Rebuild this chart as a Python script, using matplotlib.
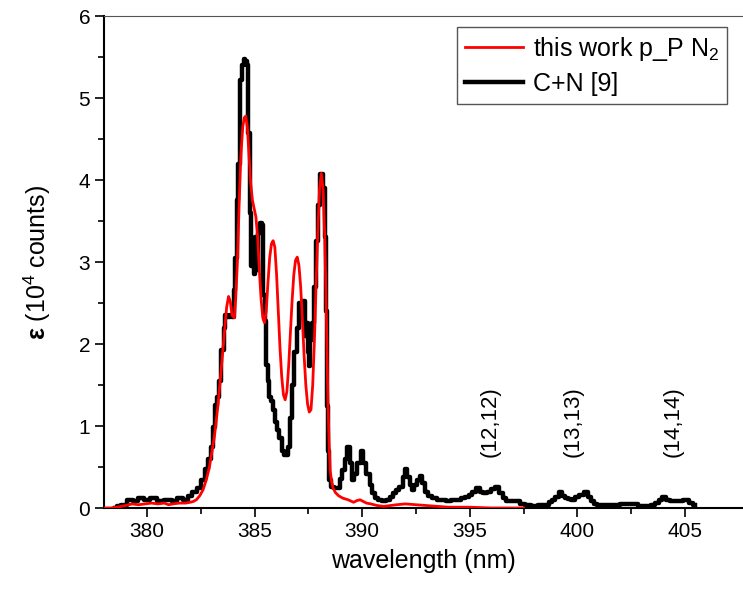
import numpy as np
import matplotlib.pyplot as plt

plt.rcParams['font.family'] = ['Liberation Sans', 'DejaVu Sans']
plt.rcParams['mathtext.fontset'] = 'custom'
plt.rcParams['mathtext.rm'] = 'Liberation Sans'
plt.rcParams['mathtext.bf'] = 'Liberation Sans:bold'

# C+N [9] (black, stepped)
wl_cn = [378.5, 378.7, 378.9, 379.2, 379.5, 379.7, 380.0, 380.3, 380.6, 381.0,
         381.3, 381.5, 381.8, 382.0, 382.2, 382.4, 382.6, 382.75, 382.9, 383.0,
         383.13, 383.21, 383.3, 383.4, 383.52, 383.6, 383.67, 383.8, 383.9, 384.0,
         384.06, 384.13, 384.2, 384.28, 384.36, 384.45, 384.52, 384.6, 384.67, 384.75,
         384.82, 384.87, 384.93, 385.0, 385.06, 385.13, 385.2, 385.28, 385.36, 385.43,
         385.5, 385.57, 385.65, 385.72, 385.8, 385.9, 386.0, 386.1, 386.2, 386.3,
         386.4, 386.5, 386.6, 386.7, 386.8, 386.9, 387.0, 387.1, 387.2, 387.28,
         387.36, 387.44, 387.51, 387.56, 387.63, 387.7, 387.8, 387.9, 388.0, 388.07,
         388.15, 388.22, 388.28, 388.33, 388.38, 388.44, 388.51, 388.59, 388.75, 388.9,
         389.0, 389.12, 389.25, 389.38, 389.48, 389.58, 389.7, 389.85, 390.0, 390.12,
         390.28, 390.4, 390.51, 390.65, 390.82, 391.0, 391.2, 391.35, 391.5, 391.65,
         391.8, 391.95, 392.04, 392.15, 392.25, 392.35, 392.5, 392.63, 392.73, 392.85,
         393.0, 393.15, 393.35, 393.6, 393.8, 394.0, 394.3, 394.5, 394.7, 394.9,
         395.04, 395.2, 395.42, 395.55, 395.7, 395.9, 396.1, 396.27, 396.45, 396.6,
         396.8, 397.04, 397.2, 397.45, 397.7, 398.0, 398.3, 398.57, 398.75, 398.9,
         399.05, 399.22, 399.35, 399.5, 399.65, 399.8, 400.0, 400.2, 400.41, 400.55,
         400.7, 400.85, 401.0, 401.4, 401.8, 402.2, 402.6, 403.0, 403.33, 403.55,
         403.7, 403.85, 404.02, 404.2, 404.4, 404.6, 404.8, 405.0, 405.1, 405.3, 405.48]
int_cn = [0.0, 0.02, 0.04, 0.10, 0.08, 0.12, 0.10, 0.12, 0.09, 0.10,
          0.08, 0.12, 0.10, 0.15, 0.20, 0.25, 0.34, 0.48, 0.60, 0.74,
          0.99, 1.26, 1.35, 1.55, 1.93, 2.20, 2.35, 2.33, 2.35, 2.33,
          2.66, 3.05, 3.76, 4.20, 5.22, 5.40, 5.47, 5.45, 5.40, 4.57,
          3.60, 2.95, 3.20, 2.85, 3.30, 2.90, 3.35, 3.47, 3.45, 2.60,
          2.28, 1.75, 1.55, 1.35, 1.30, 1.20, 1.05, 0.95, 0.85, 0.70,
          0.65, 0.65, 0.75, 1.10, 1.50, 1.90, 2.20, 2.50, 2.40, 2.53,
          2.10, 2.26, 1.90, 1.73, 2.05, 2.26, 2.70, 3.26, 3.70, 4.07,
          4.07, 3.90, 3.30, 2.40, 1.24, 0.70, 0.34, 0.26, 0.25, 0.24,
          0.35, 0.46, 0.60, 0.75, 0.55, 0.34, 0.42, 0.55, 0.70, 0.55,
          0.42, 0.28, 0.18, 0.12, 0.10, 0.08, 0.10, 0.14, 0.18, 0.22,
          0.26, 0.38, 0.48, 0.38, 0.28, 0.22, 0.28, 0.34, 0.39, 0.30,
          0.20, 0.15, 0.12, 0.10, 0.10, 0.09, 0.10, 0.10, 0.12, 0.14,
          0.16, 0.20, 0.24, 0.20, 0.18, 0.20, 0.23, 0.26, 0.18, 0.12,
          0.08, 0.08, 0.08, 0.05, 0.04, 0.03, 0.04, 0.04, 0.07, 0.10,
          0.14, 0.19, 0.15, 0.12, 0.11, 0.10, 0.13, 0.16, 0.19, 0.13,
          0.08, 0.05, 0.04, 0.04, 0.04, 0.05, 0.05, 0.03, 0.02, 0.04,
          0.06, 0.10, 0.13, 0.10, 0.08, 0.08, 0.09, 0.10, 0.10, 0.06, 0.04]

# this work p_P N2 (red)
wl_pp = [378.0, 378.3, 378.6, 379.0, 379.3, 379.6, 379.9, 380.2, 380.5, 380.8,
         381.0, 381.2, 381.5, 381.8, 382.0, 382.15, 382.29, 382.45, 382.6, 382.75,
         382.9, 383.0, 383.13, 383.21, 383.29, 383.4, 383.5, 383.6, 383.7, 383.79,
         383.87, 383.95, 384.06, 384.12, 384.2, 384.28, 384.36, 384.45, 384.52, 384.59,
         384.66, 384.74, 384.82, 384.9, 384.98, 385.06, 385.14, 385.22, 385.3, 385.38,
         385.46, 385.54, 385.62, 385.7, 385.78, 385.86, 385.94, 386.02, 386.1, 386.18,
         386.26, 386.34, 386.42, 386.5, 386.58, 386.66, 386.74, 386.82, 386.9, 386.98,
         387.06, 387.14, 387.22, 387.3, 387.38, 387.46, 387.54, 387.62, 387.7, 387.78,
         387.86, 387.94, 388.02, 388.1, 388.18, 388.26, 388.34, 388.4, 388.46, 388.51,
         388.58, 388.64, 388.75, 388.9, 389.1, 389.35, 389.6, 389.75, 389.9, 390.05,
         390.2, 390.4, 390.7, 391.0, 391.3, 391.6, 392.0, 392.5, 393.0, 393.5,
         394.0, 395.0, 396.0, 397.5]
int_pp = [0.0, 0.0, 0.01, 0.03, 0.05, 0.04, 0.05, 0.06, 0.05, 0.06,
          0.04, 0.05, 0.06, 0.06, 0.07, 0.08, 0.10, 0.15, 0.22, 0.34,
          0.50, 0.66, 0.87, 1.05, 1.24, 1.55, 1.85, 2.15, 2.45, 2.58,
          2.52, 2.35, 2.32, 2.55, 3.00, 3.70, 4.30, 4.65, 4.76, 4.78,
          4.65, 4.30, 3.95, 3.75, 3.65, 3.55, 3.30, 2.90, 2.55, 2.32,
          2.26, 2.40, 2.75, 3.05, 3.22, 3.26, 3.18, 2.85, 2.40, 1.95,
          1.60, 1.38, 1.32, 1.42, 1.72, 2.12, 2.52, 2.84, 3.02, 3.06,
          2.96, 2.70, 2.30, 1.86, 1.50, 1.27, 1.17, 1.20, 1.50, 2.05,
          2.75, 3.40, 3.90, 4.08, 3.90, 3.30, 2.30, 1.40, 0.80, 0.46,
          0.32, 0.25, 0.19, 0.15, 0.12, 0.10, 0.07, 0.09, 0.10, 0.08,
          0.06, 0.05, 0.03, 0.02, 0.03, 0.04, 0.05, 0.04, 0.03, 0.02,
          0.01, 0.01, 0.0, 0.0]

band_labels = ['(12,12)', '(13,13)', '(14,14)']
band_x = [395.95, 399.8, 404.47]
band_y = 1.05

fig = plt.figure(figsize=(7.43, 5.89), dpi=100)
ax = fig.add_axes([0.140, 0.1375, 0.860, 0.8353])

ax.plot(wl_pp, int_pp, color='red', lw=2.0, label=r'this work p_P N$_2$', zorder=3)
ax.plot(wl_cn, int_cn, color='black', lw=3.2, drawstyle='steps-mid', label='C+N [9]', zorder=2)

for lab, xb in zip(band_labels, band_x):
    ax.text(xb, band_y, lab, rotation=90, ha='center', va='center', fontsize=16)

ax.set_xlim(378.0, 407.7)
ax.set_ylim(0, 6)
ax.set_xticks([380, 385, 390, 395, 400, 405])
ax.set_xticks(np.arange(382.5, 407, 5), minor=True)
ax.set_yticks(range(0, 7))
ax.set_yticks(np.arange(0.5, 6, 1), minor=True)
ax.tick_params(axis='both', which='major', labelsize=15, length=6.5, width=1.2, direction='out')
ax.tick_params(axis='both', which='minor', length=4, width=1.2, direction='out')
ax.tick_params(top=False, right=False)

for s in ['left', 'bottom']:
    ax.spines[s].set_linewidth(1.5)
ax.spines['top'].set_linewidth(0.8)
ax.spines['top'].set_color('#555555')
ax.spines['right'].set_visible(False)

ax.set_xlabel('wavelength (nm)', fontsize=18, labelpad=6)
ax.set_ylabel(r'$\mathbf{ε}$ (10$^4$ counts)', fontsize=18, labelpad=18)

leg = ax.legend(loc='upper right', bbox_to_anchor=(0.975, 0.978), borderaxespad=0,
                fontsize=18, frameon=True, fancybox=False, framealpha=1,
                edgecolor='#555555', handlelength=2.3, handletextpad=0.4,
                borderpad=0.32, labelspacing=0.35)
leg.get_frame().set_linewidth(1.0)

fig.savefig('out.png', dpi=100)
